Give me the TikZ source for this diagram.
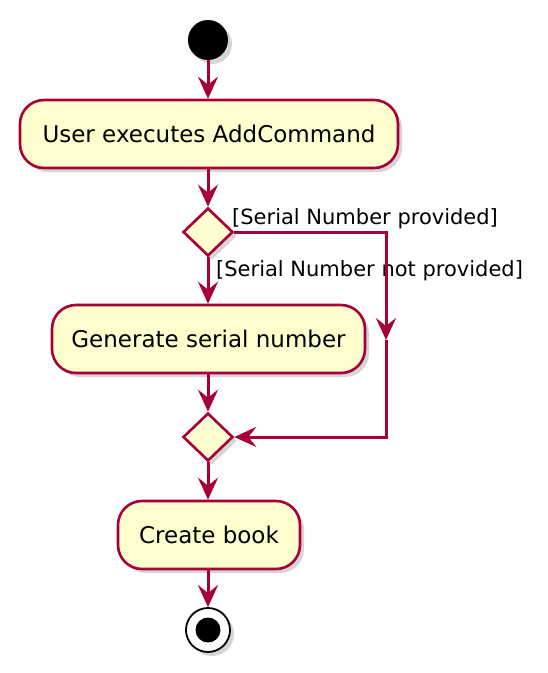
\documentclass[tikz,border=0pt]{standalone}
\usepackage{fontspec}
\setmainfont{DejaVu Sans}
\usetikzlibrary{shapes.geometric,arrows.meta,shadows}
\definecolor{umlfill}{HTML}{FEFECE}
\definecolor{umlline}{HTML}{A80036}
\tikzset{
  shade/.style={drop shadow={opacity=0.33,shadow xshift=4pt,shadow yshift=-4pt}},
  action/.style={draw=umlline,line width=2.6pt,fill=umlfill,rounded corners=24pt,
    minimum height=68pt,inner sep=0pt,font=\fontsize{23}{27}\selectfont,shade},
  branch/.style={draw=umlline,line width=2.6pt,fill=umlfill,diamond,minimum width=50pt,
    minimum height=48pt,inner sep=0pt,shade},
  tip/.style={-{Stealth[length=22pt,width=20pt,inset=8pt]}},
  flow/.style={draw=umlline,line width=3pt,line join=miter,tip},
  guard/.style={font=\fontsize{21}{25}\selectfont,anchor=west,inner sep=0pt},
}
\begin{document}
\begin{tikzpicture}[x=1pt,y=-1pt]
\useasboundingbox (0,0) rectangle (548,673);
\node[circle,fill=black,minimum size=40pt,inner sep=0pt,shade] (start) at (208,40) {};
\node[action,minimum width=378pt] (a1) at (209,134) {User executes AddCommand};
\node[branch] (d1) at (208,232) {};
\node[action,minimum width=313pt] (a2) at (208.5,339) {Generate serial number};
\node[branch] (d2) at (208,437) {};
\node[action,minimum width=182pt] (a3) at (209,535) {Create book};
\node[circle,draw=black,line width=1.8pt,fill=white,minimum size=44pt,inner sep=0pt,shade] (stop) at (208,630) {};
\node[circle,fill=black,minimum size=25pt,inner sep=0pt] (stopin) at (stop) {};
\coordinate (r1) at (386,232);
\coordinate (rm) at (386,340);
\coordinate (r2) at (386,437);
\node[guard] (g1) at (232,219) {[Serial Number provided]};
\node[guard] (g2) at (216,271) {[Serial Number not provided]};
\draw[flow] (start) -- (a1.north -| start);
\draw[flow] (a1.south -| d1) -- (d1);
\draw[flow] (d1) -- (a2.north -| d1);
\draw[flow] (d1.east) -- (r1) -- (rm);
\draw[flow] (rm) -- (r2) -- (d2.east);
\draw[flow] (a2.south -| d2) -- (d2);
\draw[flow] (d2) -- (a3.north -| d2);
\draw[flow] (a3.south -| stop) -- (stop);
\end{tikzpicture}
\end{document}
